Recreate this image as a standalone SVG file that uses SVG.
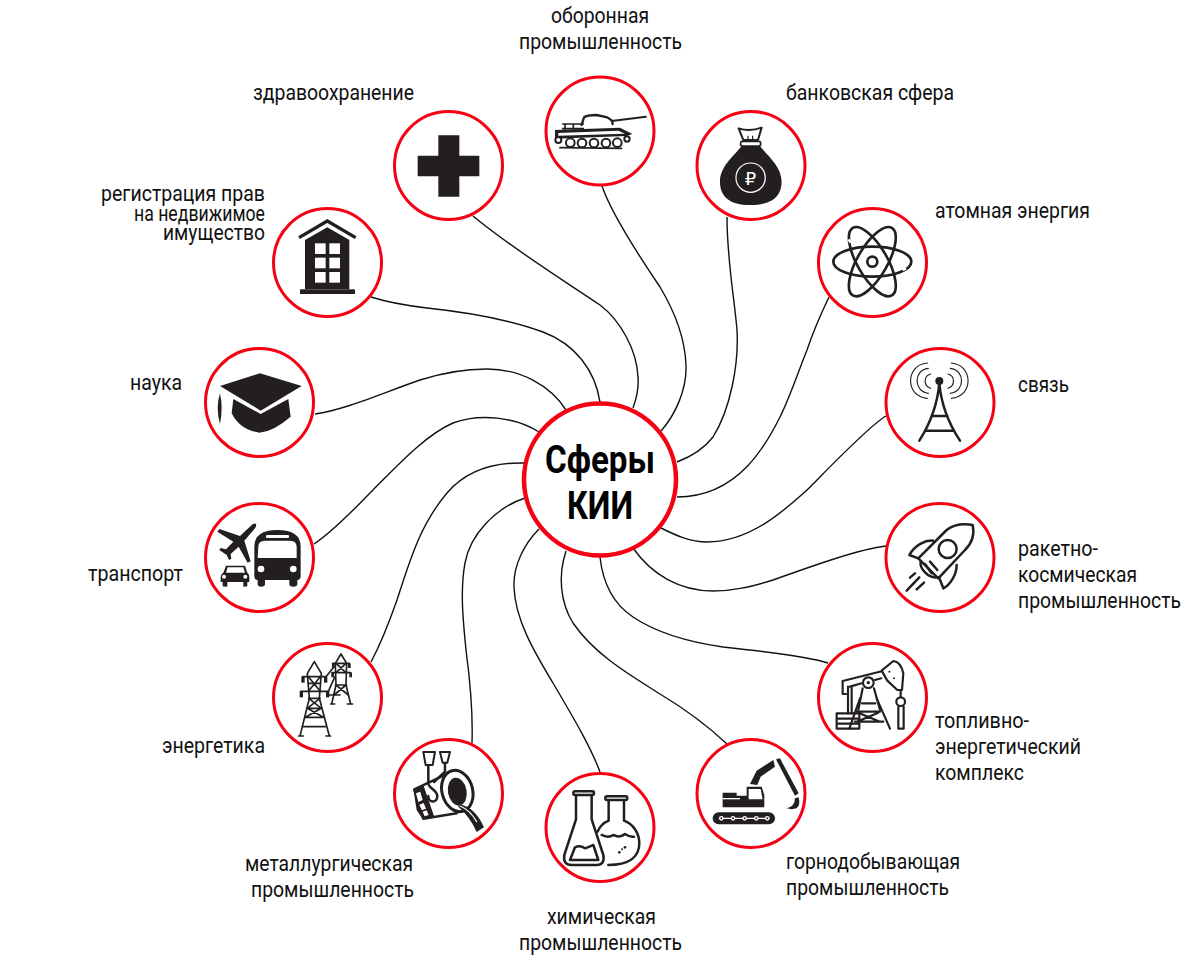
<svg xmlns="http://www.w3.org/2000/svg" width="1200" height="960" viewBox="0 0 1200 960">
<style>
.bg{fill:#fff}
.c{fill:#fff;stroke:#f60014;stroke-width:3}
.l{fill:none;stroke:#111;stroke-width:1.4}
.t{font-family:"Roboto","Liberation Sans",sans-serif;font-size:21.5px;fill:#111}
.h{font-family:"Roboto","Liberation Sans",sans-serif;font-size:39px;font-weight:700;fill:#000;text-anchor:middle}
.k{fill:#231f20}
.w{fill:#fff}
.s{fill:none;stroke:#231f20;stroke-width:7.5;stroke-linecap:round;stroke-linejoin:round}
.s4{fill:none;stroke:#231f20;stroke-width:5;stroke-linecap:round;stroke-linejoin:round}
.s3{fill:none;stroke:#231f20;stroke-width:3.5;stroke-linecap:round;stroke-linejoin:round}
.sw{fill:none;stroke:#fff;stroke-width:3.5;stroke-linecap:round;stroke-linejoin:round}
</style>
<rect class="bg" width="1200" height="960"/>
<g id="connectors">
<path class="l" d="M602,186C610,210 635,250 660,287C675,312 685,340 686,365C687,390 675,415 661,431"/>
<path class="l" d="M727,217C727,260 734,295 737,330C739,365 730,410 713,437C703,450 690,457 677,462"/>
<path class="l" d="M829,297C818,320 812,335 807,350C797,375 790,397 780,417C768,441 740,497 677,497"/>
<path class="l" d="M886,416C870,425 830,467 807,490C785,510 750,542 707,542C690,542 675,535 661,528"/>
<path class="l" d="M886,546C860,549 815,565 773,580C750,587 733,591 713,591C680,591 652,575 633,548"/>
<path class="l" d="M828,663C810,657 770,652 723,647C695,643 660,635 633,617C615,605 603,585 600,557"/>
<path class="l" d="M727,744C710,728 690,712 660,694C630,675 595,655 573,623C560,602 558,575 566,551"/>
<path class="l" d="M600,772C590,745 570,712 553,683C535,653 515,620 514,587C513,565 525,543 539,529"/>
<path class="l" d="M472,743C473,715 470,680 466,650C463,620 460,590 465,563C470,535 495,508 525,498"/>
<path class="l" d="M371,662C380,645 390,620 397,600C410,560 420,525 447,493C465,472 490,462 525,463"/>
<path class="l" d="M314,544C335,530 355,508 373,490C395,468 425,435 453,423C480,413 515,417 539,432"/>
<path class="l" d="M315,414C345,410 385,392 420,380C445,372 465,369 487,369C520,369 550,385 566,410"/>
<path class="l" d="M371,297C390,303 410,306 427,308C465,312 505,318 543,332C575,344 595,370 600,402"/>
<path class="l" d="M473,216C510,247 560,278 600,305C620,320 637,350 638,377C639,390 636,400 633,408"/>
</g>
<g id="center">
<circle cx="600" cy="479.5" r="76" fill="#fff" stroke="#f60014" stroke-width="4.5"/>
<text class="h" x="600" y="473" textLength="110" lengthAdjust="spacingAndGlyphs">Сферы</text>
<text class="h" x="600" y="519" textLength="66" lengthAdjust="spacingAndGlyphs">КИИ</text>
</g>
<g id="defense">
<circle class="c" cx="600" cy="131" r="54"/>
<g transform="translate(380,60) scale(.3333)">
<path class="s" style="fill:#fff;stroke-width:7" d="M605,195L612,172Q620,165 650,165L682,172L696,182L698,192"/>
<path class="s4" style="stroke-width:6" d="M695,183L798,170"/>
<path class="s4" d="M548,192H610M548,206H610M555,192V208M580,192V208"/>
<path class="k" d="M525,210L720,203L757,222L740,228L525,236Z"/>
<path class="w" d="M535,219L715,212L735,221L535,227Z"/>
<g class="s4" style="stroke-width:6;fill:#fff"><circle cx="535" cy="240" r="9"/><circle cx="571" cy="248" r="13"/><circle cx="606" cy="249" r="13"/><circle cx="642" cy="249" r="13"/><circle cx="678" cy="249" r="13"/><circle cx="712" cy="248" r="13"/><circle cx="741" cy="237" r="8"/></g>
<path class="s4" d="M540,263L725,265"/>
</g>
<text class="t" x="551" y="23" textLength="98" lengthAdjust="spacingAndGlyphs">оборонная</text>
<text class="t" x="519" y="49" textLength="163" lengthAdjust="spacingAndGlyphs">промышленность</text>
</g>
<g id="health">
<circle class="c" cx="448.5" cy="165.5" r="54"/>
<g transform="translate(380,60) scale(.3333)"><path class="k" d="M175,226H238V287H298V349H238V410H175V349H113V287H175Z"/></g>
<text class="t" x="253" y="100" textLength="161" lengthAdjust="spacingAndGlyphs">здравоохранение</text>
</g>
<g id="bank">
<circle class="c" cx="751" cy="165.5" r="54"/>
<g transform="translate(380,60) scale(.3333)">
<path class="k" d="M1085,258C1060,290 1020,320 1020,365C1020,410 1050,435 1110,435C1175,435 1205,410 1205,365C1205,320 1165,290 1140,258Z"/>
<path class="s4" style="fill:#fff;stroke-width:6" d="M1076,205Q1110,216 1145,203L1134,240H1090Z"/>
<path class="s3" d="M1104,228V240M1118,228V240"/>
<rect x="1082" y="244" width="60" height="14" rx="5" fill="#fff" stroke="#231f20" stroke-width="5"/>
<circle class="sw" cx="1112" cy="353" r="44"/>
</g>
<text x="750.5" y="184.5" font-family="DejaVu Sans,sans-serif" font-size="18" fill="#fff" text-anchor="middle">₽</text>
<text class="t" x="786" y="100" textLength="168" lengthAdjust="spacingAndGlyphs">банковская сфера</text>
</g>
<g id="atom">
<circle class="c" cx="872.5" cy="262.5" r="54"/>
<g transform="translate(800,200) scale(.3333)">
<g class="s" style="stroke-width:8"><circle cx="217" cy="185" r="15"/><ellipse cx="217" cy="185" rx="117" ry="45"/><ellipse cx="217" cy="185" rx="117" ry="45" transform="rotate(60 217 185)"/><ellipse cx="217" cy="185" rx="117" ry="45" transform="rotate(-60 217 185)"/></g>
<path stroke="#fff" stroke-width="8" d="M146,118L152,128M308,210L318,205"/>
</g>
<text class="t" x="935" y="218" textLength="155" lengthAdjust="spacingAndGlyphs">атомная энергия</text>
</g>
<g id="telecom">
<circle class="c" cx="940" cy="402.5" r="54"/>
<g transform="translate(800,200) scale(.3333)">
<circle class="k" cx="418" cy="543" r="12"/>
<path class="s" d="M418,550Q410,640 358,722M418,550Q426,640 480,722M395,648H442M380,692H458"/>
<path class="s3" d="M382,489C315,495 315,590 382,595M385,505C340,510 340,575 385,580M392,522C370,528 370,558 392,565M454,489C521,495 521,590 454,595M451,505C496,510 496,575 451,580M444,522C466,528 466,558 444,565"/>
</g>
<text class="t" x="1018" y="392" textLength="51" lengthAdjust="spacingAndGlyphs">связь</text>
</g>
<g id="rocket">
<circle class="c" cx="940" cy="557.5" r="54"/>
<g transform="translate(800,490) scale(.3333)">
<g class="s"><path d="M518,105C490,100 460,105 440,120L355,205L415,265L495,180C515,160 525,135 518,105Z"/>
<circle cx="443" cy="177" r="27"/>
<path d="M400,152C375,150 345,165 328,195L355,205M470,225C470,255 450,285 430,295L417,262M362,215C358,235 385,265 410,262M375,222L395,250M390,215L412,240M320,302L358,262M330,263L345,250M350,298L372,278"/></g>
</g>
<text class="t" x="1018" y="556" textLength="80" lengthAdjust="spacingAndGlyphs">ракетно-</text>
<text class="t" x="1018" y="582" textLength="119" lengthAdjust="spacingAndGlyphs">космическая</text>
<text class="t" x="1018" y="608" textLength="163" lengthAdjust="spacingAndGlyphs">промышленность</text>
</g>
<g id="fuel">
<circle class="c" cx="872.5" cy="697.5" r="54"/>
<g transform="translate(800,490) scale(.3333)">
<g class="s" style="stroke-width:6.5"><path d="M245,542L280,513Q302,515 310,550L306,600H292L262,572L245,542ZM245,544L128,573V612H138M244,565L225,570M185,580L150,590M144,590V670M155,590V670"/>
<path d="M180,625L148,716M230,625L270,716M186,640H226M172,665H240M165,695H250M175,668L240,695M235,668L170,695"/>
<circle cx="205" cy="578" r="16"/>
<path d="M188,595L175,660M222,595L240,660"/>
<path d="M110,670H178V716H110ZM110,686H178M110,701H178"/>
<circle cx="302" cy="635" r="13"/><path d="M302,602V620M295,650V716H311V650"/></g>
<circle class="k" cx="205" cy="578" r="5"/>
<circle class="k" cx="268" cy="545" r="3"/><circle class="k" cx="282" cy="565" r="3"/>
</g>
<text class="t" x="935" y="728" textLength="94" lengthAdjust="spacingAndGlyphs">топливно-</text>
<text class="t" x="935" y="754" textLength="146" lengthAdjust="spacingAndGlyphs">энергетический</text>
<text class="t" x="935" y="780" textLength="89" lengthAdjust="spacingAndGlyphs">комплекс</text>
</g>
<g id="mining">
<circle class="c" cx="751" cy="793.5" r="54"/>
<g transform="translate(530,730) scale(.3333)">
<rect class="k" x="548" y="247" width="187" height="36" rx="18"/>
<path class="sw" d="M574,265H712"/>
<g class="w"><circle cx="574" cy="265" r="7"/><circle cx="609" cy="265" r="7"/><circle cx="644" cy="265" r="7"/><circle cx="679" cy="265" r="7"/><circle cx="712" cy="265" r="7"/></g>
<g class="k"><circle cx="574" cy="265" r="3"/><circle cx="609" cy="265" r="3"/><circle cx="644" cy="265" r="3"/><circle cx="679" cy="265" r="3"/><circle cx="712" cy="265" r="3"/></g>
<path class="k" d="M578,188H620V197H650V170H695L703,195V232H578Z"/>
<path class="w" d="M656,177H692L698,208H656Z"/>
<path class="w" d="M578,204H630V208H578Z"/>
<path class="k" d="M660,162L680,122L730,90L735,110L692,140L682,165Z"/>
<path class="k" d="M738,88L750,85L806,190L795,197Z"/>
<path class="k" d="M795,205L806,202Q812,225 800,235Q785,240 770,235Q795,230 795,205Z"/>
</g>
<text class="t" x="786" y="869" textLength="174" lengthAdjust="spacingAndGlyphs">горнодобывающая</text>
<text class="t" x="786" y="895" textLength="163" lengthAdjust="spacingAndGlyphs">промышленность</text>
</g>
<g id="chemical">
<circle class="c" cx="600" cy="827.5" r="54"/>
<g transform="translate(530,730) scale(.3333)">
<g class="s">
<rect x="130" y="184" width="62" height="11" rx="5"/>
<path d="M138,197V268L103,375Q98,405 125,405H200Q225,405 220,375L185,268V197"/>
<path d="M120,390L135,352Q150,345 165,355Q180,350 190,345L205,390Z"/>
<rect x="226" y="199" width="66" height="11" rx="5"/>
<path d="M236,212V272Q212,282 203,305M282,212V272C310,282 328,310 328,340C328,382 295,405 235,405"/>
<path d="M215,315Q235,325 250,315Q270,325 285,312Q300,322 312,320"/>
</g>
<g class="k"><circle cx="285" cy="352" r="4"/><circle cx="268" cy="367" r="4"/><circle cx="276" cy="358" r="3"/></g>
</g>
<text class="t" x="547" y="924" textLength="109" lengthAdjust="spacingAndGlyphs">химическая</text>
<text class="t" x="519" y="950" textLength="163" lengthAdjust="spacingAndGlyphs">промышленность</text>
</g>
<g id="metal">
<circle class="c" cx="448.5" cy="793.5" r="54"/>
<g transform="translate(260,630) scale(.3333)">
<path class="s" style="fill:#fff" d="M463,478L555,435L600,425L590,550L490,566Z"/>
<path class="k" d="M460,478L490,465L522,558L488,568L470,540Z"/>
<path class="w" d="M468,490L481,485L488,510L475,516ZM478,524L491,519L498,536L486,541ZM488,545L500,541L506,555L494,559Z"/>
<ellipse cx="592" cy="483" rx="46" ry="63" transform="rotate(-15 592 483)" fill="#fff" stroke="#231f20" stroke-width="9"/>
<ellipse class="k" cx="592" cy="485" rx="28" ry="42" transform="rotate(-10 592 485)"/>
<path class="k" d="M595,522Q645,530 672,592L650,606Q630,560 595,530Z"/>
<path class="sw" d="M600,528Q630,540 650,575"/>
<path class="s4" style="stroke-width:6;fill:#fff" d="M490,366H525L518,405H497ZM540,366H570L562,398H548Z"/>
<path class="s" d="M505,408V460C505,475 530,478 532,498C532,520 505,520 505,498M555,400V425L522,456"/>
</g>
<text class="t" x="245" y="871" textLength="168" lengthAdjust="spacingAndGlyphs">металлургическая</text>
<text class="t" x="251" y="897" textLength="163" lengthAdjust="spacingAndGlyphs">промышленность</text>
</g>
<g id="power">
<circle class="c" cx="327.5" cy="697.5" r="54"/>
<g transform="translate(260,630) scale(.3333)">
<g class="s4">
<path d="M163,95L142,130L148,205L120,318M163,95L184,130L178,205L208,318M116,318H130M198,318H212"/>
<path d="M128,140H198M122,184H205M145,160H181M146,205H180M142,235H184M136,262H190M130,290H196M145,140L181,184M181,140L145,184M146,205L184,235M180,205L142,235M142,235L190,262M184,235L136,262"/>
<path d="M243,72L226,100L228,165L215,222M243,72L260,100L258,165L272,222M212,222H224M262,222H278"/>
<path d="M218,100H268M216,128H272M226,165H260M228,100L258,128M258,100L228,128M228,165L265,195M258,165L222,195"/>
<path d="M198,140L222,110M205,184L225,140M205,195H240"/>
</g>
<g class="k"><rect x="124" y="140" width="10" height="18"/><rect x="192" y="140" width="10" height="18"/><rect x="119" y="184" width="10" height="18"/><rect x="198" y="184" width="10" height="18"/><rect x="216" y="100" width="8" height="14"/><rect x="264" y="100" width="8" height="14"/><rect x="214" y="128" width="8" height="14"/><rect x="268" y="128" width="8" height="14"/></g>
</g>
<text class="t" x="162" y="753" textLength="103" lengthAdjust="spacingAndGlyphs">энергетика</text>
</g>
<g id="transport">
<circle class="c" cx="259.5" cy="557.5" r="54"/>
<g transform="translate(190,200) scale(.3333)">
<path class="k" d="M193,1040Q193,990 262,990Q332,990 332,1040V1128Q332,1140 322,1140V1152Q322,1160 310,1160Q298,1160 298,1152V1140H225V1152Q225,1160 213,1160Q203,1160 203,1152V1140Q193,1140 193,1128Z"/>
<path class="w" d="M205,1040Q205,1022 225,1022H300Q320,1022 320,1040V1074H203Z"/>
<rect class="w" x="228" y="1005" width="69" height="9" rx="3"/>
<circle class="w" cx="213" cy="1107" r="10"/><circle class="w" cx="310" cy="1107" r="10"/>
<path class="k" d="M198,972Q192,968 182,978L150,1008L88,987L82,995L130,1025L108,1048L92,1044L88,1050L110,1065L117,1080L124,1076L122,1062L146,1040L173,1088L182,1084L163,1022L195,985Q200,978 198,972Z"/>
<path class="k" d="M100,1118L108,1097H165L172,1118Q178,1122 178,1132V1146H172V1158Q172,1160 160,1160V1146H112V1160Q98,1160 98,1158V1146H92V1132Q92,1122 100,1118Z"/>
<path class="w" d="M108,1118L113,1102H160L165,1118Z"/>
<circle class="w" cx="102" cy="1130" r="6"/><circle class="w" cx="166" cy="1130" r="6"/>
</g>
<text class="t" x="88" y="581" textLength="95" lengthAdjust="spacingAndGlyphs">транспорт</text>
</g>
<g id="science">
<circle class="c" cx="259.5" cy="402.5" r="54"/>
<g transform="translate(190,200) scale(.3333)">
<path class="k" d="M90,558L210,520L335,558L212,632Z"/>
<path class="k" d="M130,597L212,642L295,597L302,650Q250,695 208,698Q150,690 125,640Z"/>
<path class="k" d="M90,580Q76,625 90,672Q100,625 90,580Z"/>
</g>
<text class="t" x="130" y="390" textLength="52" lengthAdjust="spacingAndGlyphs">наука</text>
</g>
<g id="registry">
<circle class="c" cx="327.5" cy="262.5" r="54"/>
<g transform="translate(190,200) scale(.3333)">
<path class="s" style="stroke-linecap:butt;stroke-linejoin:miter;stroke-width:10" d="M327,113L412,63L497,113"/>
<path class="k" d="M345,120L412,82L478,120V268H345Z"/>
<rect class="k" x="330" y="268" width="165" height="14"/>
<g class="w"><rect x="375" y="130" width="32" height="32"/><rect x="418" y="130" width="32" height="32"/><rect x="375" y="173" width="32" height="32"/><rect x="418" y="173" width="32" height="32"/><rect x="375" y="216" width="32" height="32"/><rect x="418" y="216" width="32" height="32"/></g>
</g>
<text class="t" x="101" y="201" textLength="164" lengthAdjust="spacingAndGlyphs">регистрация прав</text>
<text class="t" x="134" y="220.5" textLength="131" lengthAdjust="spacingAndGlyphs">на недвижимое</text>
<text class="t" x="163" y="240" textLength="102" lengthAdjust="spacingAndGlyphs">имущество</text>
</g>
</svg>
